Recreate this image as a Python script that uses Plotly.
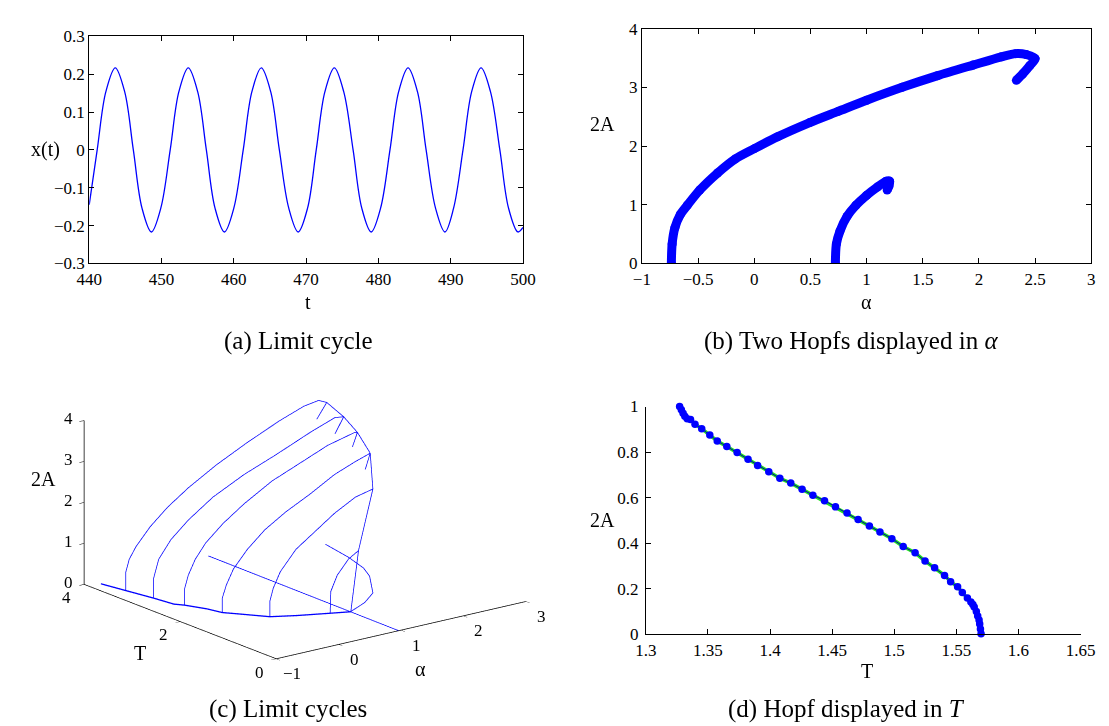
import plotly.graph_objects as go

W, H = 1109, 726
def px(x): return x / W
def py(y): return 1 - y / H

FONT = "Liberation Serif"

# ---------------- (a) Limit cycle ----------------
t_a = [440.0, 441.1, 442.3, 443.6, 444.9, 446.1, 447.3, 448.6, 449.9, 451.2, 452.4, 453.7,
       455.0, 456.2, 457.4, 458.7, 460.0, 461.3, 462.5, 463.8, 465.1, 466.3, 467.6, 468.9,
       470.2, 471.4, 472.6, 473.9, 475.2, 476.5, 477.7, 479.0, 480.3, 481.6, 482.8, 484.1,
       485.4, 486.6, 487.9, 489.2, 490.4, 491.7, 492.9, 494.2, 495.5, 496.8, 498.0, 499.3, 500.0]
x_a = [-0.145, 0.0, 0.154, 0.217, 0.154, 0.0, -0.154, -0.217, -0.154, 0.0, 0.154, 0.217,
       0.154, 0.0, -0.154, -0.217, -0.154, 0.0, 0.154, 0.217, 0.154, 0.0, -0.154, -0.217,
       -0.154, 0.0, 0.154, 0.217, 0.154, 0.0, -0.154, -0.217, -0.154, 0.0, 0.154, 0.217,
       0.154, 0.0, -0.154, -0.217, -0.154, 0.0, 0.154, 0.217, 0.154, 0.0, -0.154, -0.217, -0.205]

# ---------------- (b) Two Hopfs displayed in alpha ----------------
alpha_b1 = [-0.738, -0.731, -0.706, -0.659, -0.596, -0.485, -0.327, -0.169, 0.005, 0.21, 0.494,
            0.747, 1.0, 1.316, 1.632, 1.948, 2.20, 2.327, 2.42, 2.50, 2.453, 2.39, 2.333]
amp_b1 = [0.0, 0.33, 0.61, 0.83, 0.99, 1.25, 1.54, 1.78, 1.96, 2.16, 2.40,
          2.59, 2.78, 3.0, 3.20, 3.38, 3.52, 3.575, 3.56, 3.49, 3.37, 3.23, 3.12]
alpha_b2 = [0.722, 0.731, 0.763, 0.826, 0.905, 1.0, 1.095, 1.174, 1.205, 1.199, 1.183]
amp_b2 = [0.0, 0.33, 0.55, 0.80, 0.99, 1.16, 1.30, 1.40, 1.40, 1.32, 1.25]

# ---------------- (c) Limit cycles (3D) ----------------
c_arch_T = [3.47, 3.0, 2.52, 1.98, 1.47, 1.12]
c_arch_alpha = [
    [-0.742, -0.742, -0.686, -0.575, -0.351, -0.071, 0.265, 0.712, 1.216, 1.72, 2.11, 2.35, 2.48, 2.32],
    [-0.659, -0.659, -0.575, -0.379, -0.10, 0.292, 0.795, 1.299, 1.858, 2.25, 2.39, 2.25],
    [-0.528, -0.528, -0.471, -0.359, -0.192, 0.088, 0.423, 0.87, 1.319, 1.766, 2.19, 2.24, 2.16],
    [-0.342, -0.342, -0.276, -0.163, 0.06, 0.34, 0.676, 1.067, 1.458, 1.794, 2.03, 1.95],
    [0.029, 0.029, 0.084, 0.196, 0.448, 0.728, 1.063, 1.40, 1.68],
    [0.726, 0.736, 0.84, 1.02, 1.18],
]
c_arch_amp = [
    [0.0, 0.446, 0.743, 1.02, 1.42, 1.80, 2.16, 2.56, 2.94, 3.28, 3.50, 3.56, 3.465, 3.11],
    [0.0, 0.47, 0.92, 1.33, 1.71, 2.13, 2.51, 2.81, 3.17, 3.39, 3.36, 2.99],
    [0.0, 0.41, 0.71, 1.06, 1.40, 1.78, 2.14, 2.54, 2.82, 3.10, 3.26, 3.25, 2.92],
    [0.0, 0.35, 0.65, 1.0, 1.40, 1.78, 2.10, 2.40, 2.74, 2.94, 3.06, 2.69],
    [0.0, 0.38, 0.68, 1.04, 1.50, 1.80, 2.16, 2.44, 2.54],
    [0.0, 0.53, 0.89, 1.22, 1.37],
]
c_base_alpha = [-0.816, -0.742, -0.659, -0.61, -0.528, -0.40, -0.342, -0.216, 0.029, 0.331, 0.726, 0.972]
c_base_T = [3.89, 3.47, 3.0, 2.64, 2.52, 2.22, 1.98, 1.81, 1.47, 1.30, 1.12, 1.01]
c_env_alpha = [2.48, 2.39, 2.24, 2.03, 1.68, 1.18, 0.972]
c_env_T = [3.47, 3.0, 2.52, 1.98, 1.47, 1.12, 1.01]
c_env_amp = [3.465, 3.36, 3.25, 3.06, 2.54, 1.37, 0.0]
c_line_alpha = [0.99, 0.962]
c_line_T = [4.0, 0.0]
c_small_alpha = [0.98, 0.98, 0.98, 0.98, 0.98, 0.98, 0.98]
c_small_T = [1.548, 1.065, 0.756, 0.629, 0.56, 0.73, 1.018]
c_small_amp = [1.40, 1.30, 1.18, 1.04, 0.66, 0.35, 0.0]
c_alpha_ticks = [-1, 0, 1, 2, 3]
c_T_ticks = [0, 2, 4]
c_amp_ticks = [0, 1, 2, 3, 4]

# ---------------- (d) Hopf displayed in T ----------------
T_d = [1.3272, 1.3286, 1.3300, 1.3314, 1.3333, 1.3360, 1.3396, 1.3450, 1.3515, 1.3575, 1.3652,
       1.3735, 1.3823, 1.3900, 1.3990, 1.4079, 1.4167, 1.4258, 1.4345, 1.4439, 1.4527, 1.4620,
       1.4709, 1.4800, 1.4885, 1.4981, 1.5072, 1.5168, 1.5248, 1.5325, 1.5405, 1.5454, 1.5510,
       1.5548, 1.5589, 1.5617, 1.5633, 1.5644, 1.5661, 1.5672, 1.5683, 1.5688, 1.5694, 1.5699]
amp_d = [1.0, 0.986, 0.971, 0.957, 0.946, 0.943, 0.922, 0.903, 0.875, 0.849, 0.825,
         0.798, 0.769, 0.741, 0.714, 0.685, 0.664, 0.637, 0.611, 0.587, 0.560, 0.533,
         0.504, 0.476, 0.449, 0.420, 0.386, 0.358, 0.322, 0.293, 0.259, 0.231, 0.209,
         0.184, 0.160, 0.142, 0.131, 0.120, 0.100, 0.081, 0.063, 0.046, 0.024, 0.003]

captions = ["(a) Limit cycle", "(b) Two Hopfs displayed in <i>α</i>",
            "(c) Limit cycles", "(d) Hopf displayed in <i>T</i>"]

BLUE = "#0000ff"
fig = go.Figure()

# (a)
fig.add_trace(go.Scatter(x=t_a, y=x_a, mode="lines", xaxis="x", yaxis="y",
                         line=dict(color=BLUE, width=1.3, shape="spline", smoothing=1.0)))
# (b)
for a, b in [(alpha_b1, amp_b1), (alpha_b2, amp_b2)]:
    fig.add_trace(go.Scatter(x=a, y=b, mode="lines+markers", xaxis="x2", yaxis="y2",
                             line=dict(color=BLUE, width=9, shape="spline", smoothing=0.8),
                             marker=dict(color=BLUE, size=9)))
# (c)
def add3d(a, t, z, width=1.5):
    fig.add_trace(go.Scatter3d(x=a, y=t, z=z, mode="lines",
                               line=dict(color=BLUE, width=width), scene="scene"))

for T, aa, zz in zip(c_arch_T, c_arch_alpha, c_arch_amp):
    add3d(aa, [T] * len(aa), zz)
add3d(c_base_alpha, c_base_T, [0.0] * len(c_base_T), width=2.6)
add3d(c_env_alpha, c_env_T, c_env_amp)
add3d(c_line_alpha, c_line_T, [0.0, 0.0])
add3d(c_small_alpha, c_small_T, c_small_amp)

# (d)
fig.add_trace(go.Scatter(x=T_d, y=amp_d, mode="lines", xaxis="x3", yaxis="y3",
                         line=dict(color="#22dd22", width=3.5), cliponaxis=False))
fig.add_trace(go.Scatter(x=T_d, y=amp_d, mode="lines+markers", xaxis="x3", yaxis="y3",
                         line=dict(color="#0000aa", width=1),
                         marker=dict(color=BLUE, size=7.5), cliponaxis=False))

tickfont = dict(family=FONT, size=17, color="black")
ax_common = dict(showline=True, linecolor="black", linewidth=1, ticks="inside", ticklen=5,
                 tickcolor="black", showgrid=False, zeroline=False, tickfont=tickfont)

ax3 = dict(showgrid=False, showbackground=False, zeroline=False, showline=True,
           linecolor="black", linewidth=1.5, ticks="outside", ticklen=6, tickcolor="black",
           showspikes=False, showticklabels=False, title=dict(text=""))

# orthographic view: plotly maps [-1, 1] scene units onto the domain height,
# so the zoom is set through the aspect ratio
DOM_H = 400.0
cx, cy = 291.6, 507.5
SXY = 1.615
SZ = 0.8805
fig.update_layout(
    width=W, height=H, margin=dict(l=0, r=0, t=0, b=0),
    paper_bgcolor="white", plot_bgcolor="white", showlegend=False, hovermode=False,
    font=dict(family=FONT, color="black"),
    xaxis=dict(domain=[px(70), px(515)], range=[440, 500], dtick=10, anchor="y",
               mirror="ticks", **ax_common),
    yaxis=dict(domain=[py(253), py(20)], range=[-0.3, 0.3], dtick=0.1, anchor="x",
               mirror="ticks", **ax_common),
    xaxis2=dict(domain=[px(637), px(1098)], range=[-1, 3], dtick=0.5, anchor="y2",
                mirror="ticks", **ax_common),
    yaxis2=dict(domain=[py(253), py(12)], range=[0, 4], dtick=1, anchor="x2",
                mirror="ticks", **ax_common),
    xaxis3=dict(domain=[px(641), px(1087)], range=[1.3, 1.65], dtick=0.05, anchor="y3",
                **ax_common),
    yaxis3=dict(domain=[py(634), py(400)], range=[0, 1], dtick=0.2, anchor="x3",
                ticklabelstandoff=3, **ax_common),
    scene=dict(
        domain=dict(x=[px(cx - 280), px(cx + 280)],
                    y=[py(cy + DOM_H / 2), py(cy - DOM_H / 2)]),
        xaxis=dict(range=[-1, 3], dtick=1, **ax3),
        yaxis=dict(range=[0, 4], tickvals=c_T_ticks, **ax3),
        zaxis=dict(range=[0, 4], dtick=1, **ax3),
        aspectmode="manual", aspectratio=dict(x=SXY, y=SXY, z=SZ),
        camera=dict(eye=dict(x=-0.582 * 2, y=-0.756 * 2, z=0.298 * 2),
                    up=dict(x=0, y=0, z=1), center=dict(x=0, y=0, z=0),
                    projection=dict(type="orthographic")),
        bgcolor="rgba(0,0,0,0)",
    ),
)

# 3D tick labels, placed with the same orthographic view as the scene
X0, Y0 = cx - 28.7, cy + 151.8
def proj(a, t, z):
    return (X0 + 63.95 * (a + 1) - 49.6 * t,
            Y0 - 14.65 * (a + 1) - 19.25 * t - 42.0 * z)

def fmt(v):
    return ("\u2212" + str(abs(v))) if v < 0 else str(v)

def note(text, x, y, font):
    fig.add_annotation(text=text, x=px(x), y=py(y), xref="paper", yref="paper",
                       showarrow=False, font=font, xanchor="center", yanchor="middle")

tick3 = dict(family=FONT, size=17, color="black")
for v in c_amp_ticks:
    X, Y = proj(-1, 4, v)
    note(fmt(v), X - 16, Y - 2, tick3)
for v in c_T_ticks:
    X, Y = proj(-1, v, 0)
    note(fmt(v), X - 18, Y + 13.5, tick3)
for v in c_alpha_ticks:
    X, Y = proj(v, 0, 0)
    note(fmt(v), X + 15, Y + 15, tick3)

lab = dict(family=FONT, size=20, color="black")
annots = [
    ("x(t)", 25, 136), ("t", 294, 293),
    ("2A", 597, 110), ("α", 867, 293),
    ("2A", 597, 517), ("T", 868, 672),
    ("2A", 23, 474), ("T", 121.6, 653), ("α", 409.6, 670),
]
for text, x, y in annots:
    note(text, x, y, lab)

cap_pos = [(285, 333), (852, 333), (274, 711), (847, 711)]
for text, (x, y) in zip(captions, cap_pos):
    note(text, x, y, dict(family=FONT, size=25, color="black"))

fig.write_html("out.html")
